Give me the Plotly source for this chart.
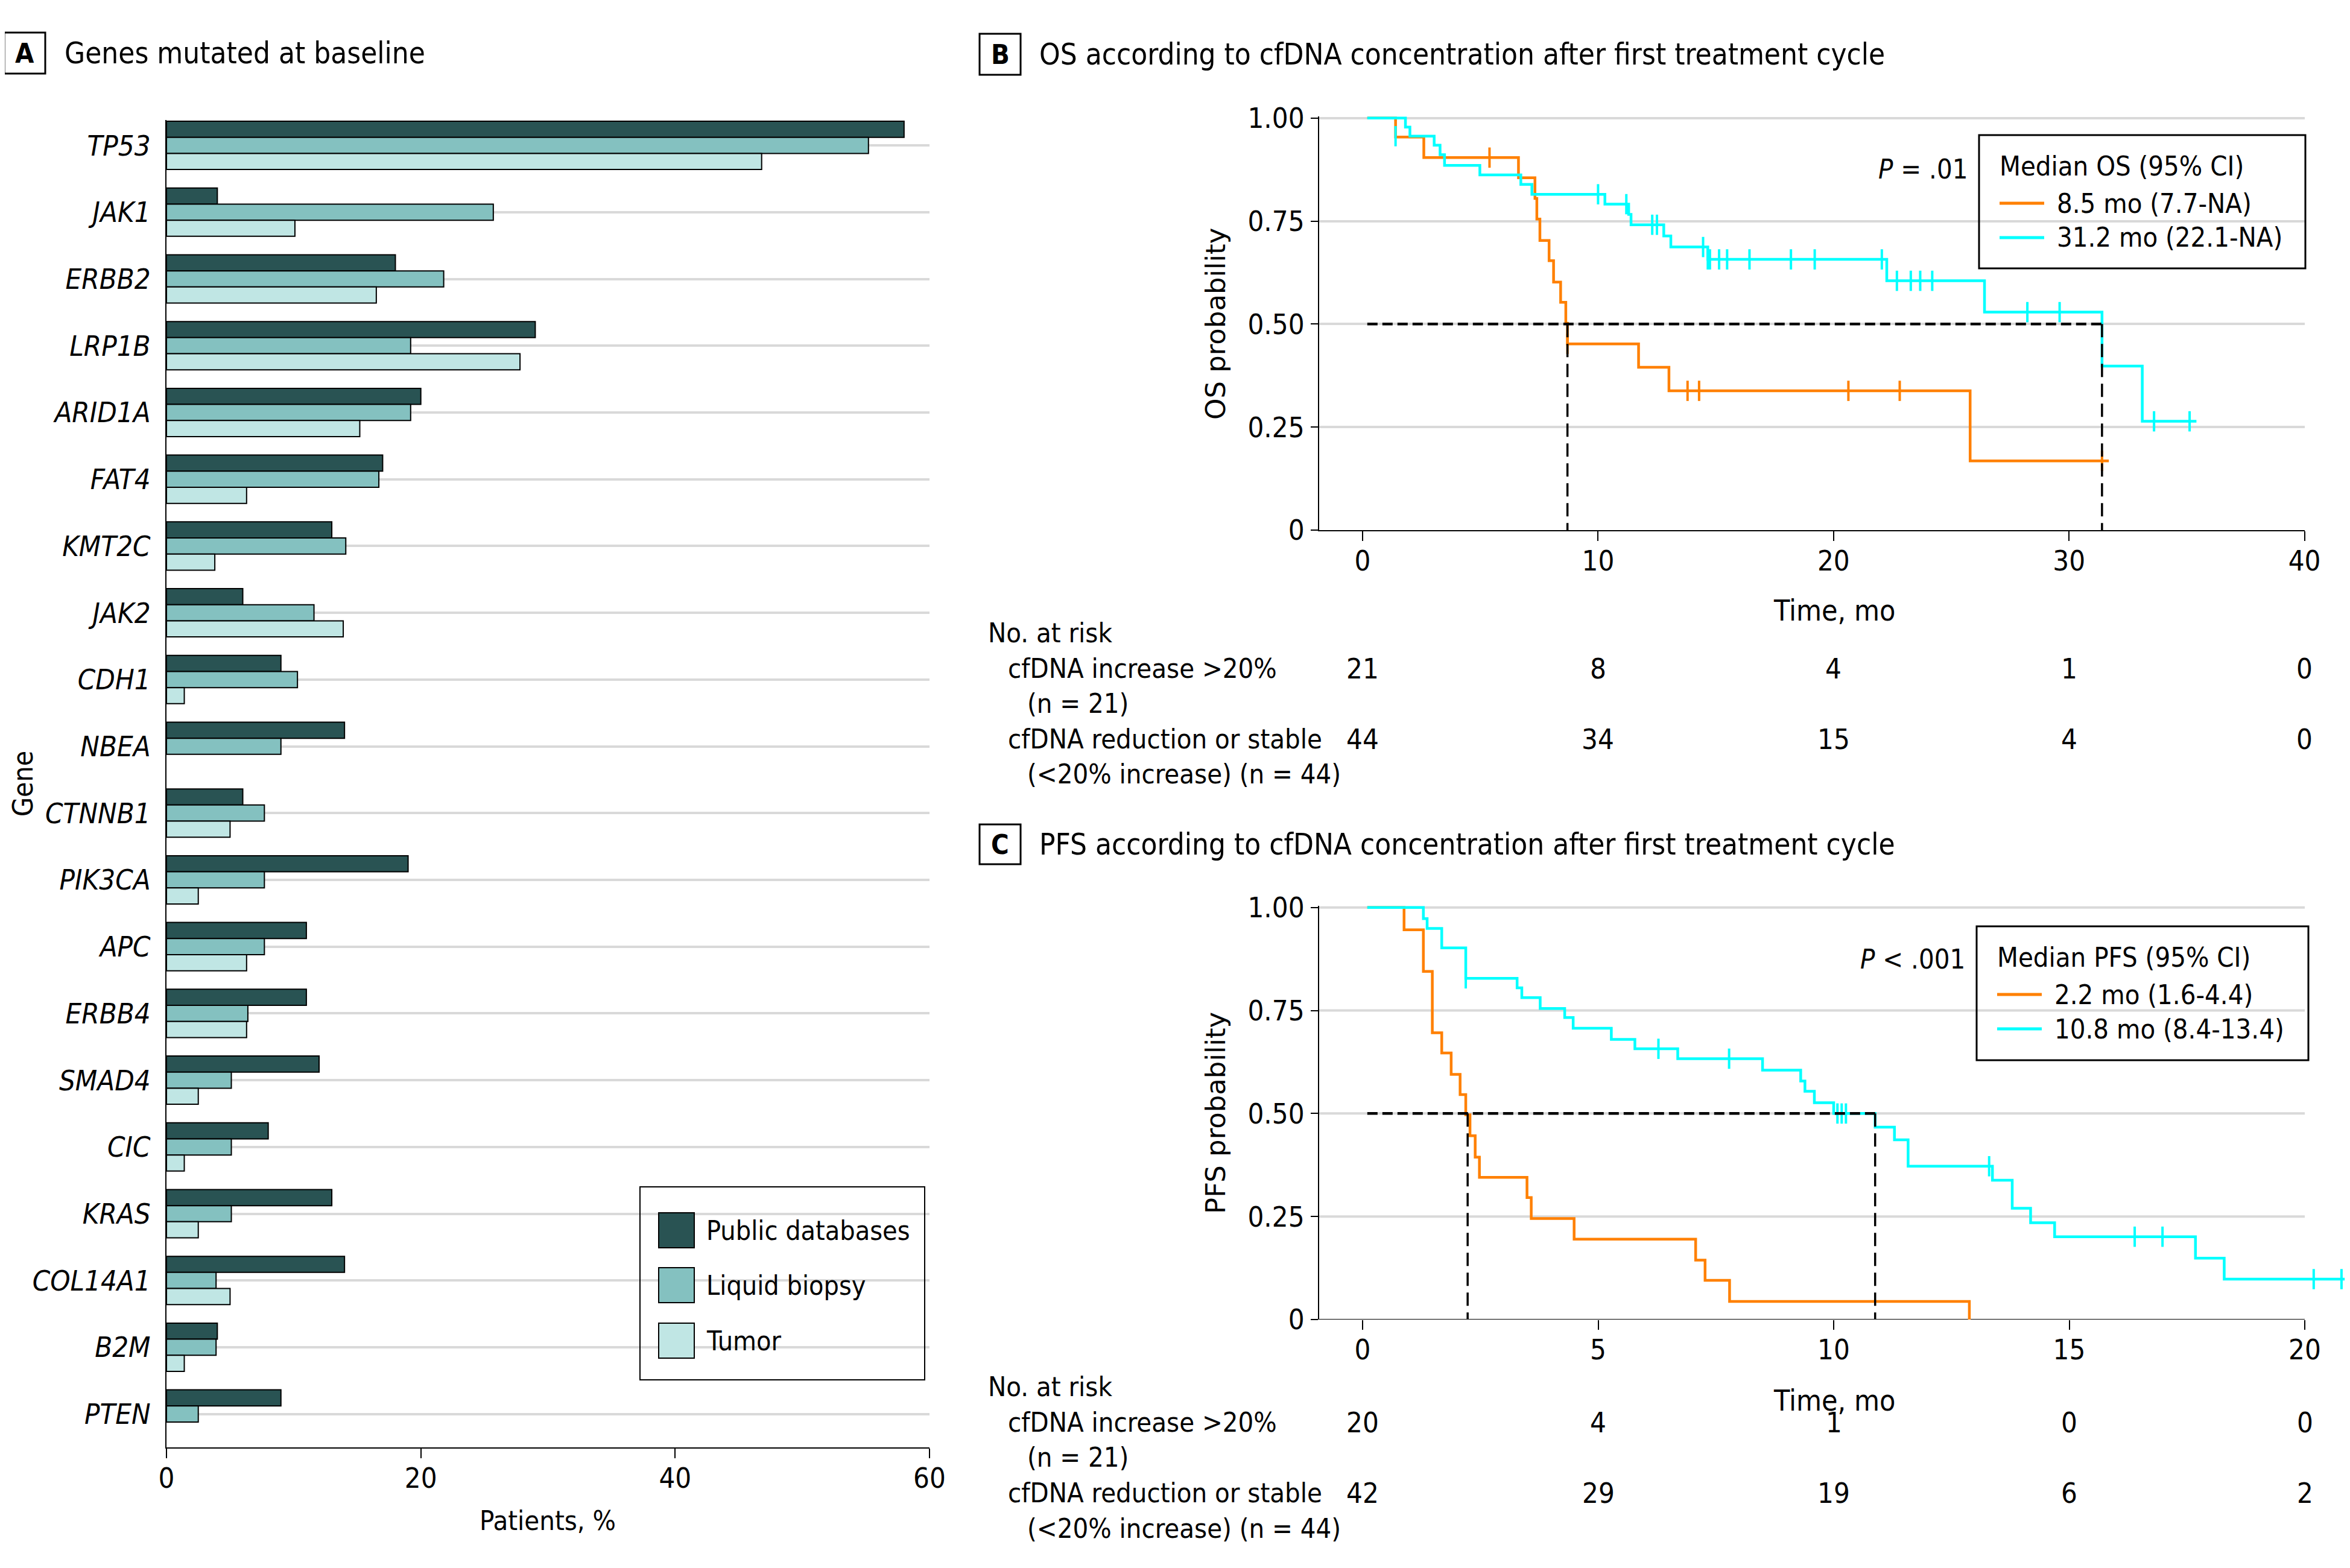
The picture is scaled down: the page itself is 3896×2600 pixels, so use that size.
import plotly.graph_objects as go

PAGE_W, PAGE_H = 3896, 2600
OFF = 8                       # default body margin of the html page
W, H = PAGE_W - 2 * OFF, PAGE_H - 2 * OFF
FONT = "'Liberation Sans Narrow', 'Arial Narrow', 'DejaVu Sans Condensed', 'Roboto Condensed', sans-serif"
ORANGE = "#ff8000"
CYAN = "#00ffff"
GRID = "#d9d9d9"
TXT = 45      # body text size
TICK = 47     # tick label size
TITLE = 49    # panel title size

# ---------------- Panel A data ----------------
genes = ["TP53", "JAK1", "ERBB2", "LRP1B", "ARID1A", "FAT4", "KMT2C", "JAK2", "CDH1", "NBEA",
         "CTNNB1", "PIK3CA", "APC", "ERBB4", "SMAD4", "CIC", "KRAS", "COL14A1", "B2M", "PTEN"]
public_db = [58.0, 4.0, 18.0, 29.0, 20.0, 17.0, 13.0, 6.0, 9.0, 14.0,
             6.0, 19.0, 11.0, 11.0, 12.0, 8.0, 13.0, 14.0, 4.0, 9.0]
liquid_biopsy = [55.2, 25.7, 21.8, 19.2, 19.2, 16.7, 14.1, 11.6, 10.3, 9.0,
                 7.7, 7.7, 7.7, 6.4, 5.1, 5.1, 5.1, 3.9, 3.9, 2.5]
tumor = [46.8, 10.1, 16.5, 27.8, 15.2, 6.3, 3.8, 13.9, 1.4, None,
         5.0, 2.5, 6.3, 6.3, 2.5, 1.4, 2.5, 5.0, 1.4, None]
bar_series = ["Public databases", "Liquid biopsy", "Tumor"]
bar_colors = ["#295353", "#84c1c0", "#c0e6e4"]
a_ticks = [0, 20, 40, 60]

# ---------------- Panel B data (OS) ----------------
os_inc_t = [0.2, 1.40, 2.60, 6.62, 7.32, 7.40, 7.53, 7.92, 8.11, 8.41, 8.63, 8.70, 11.72, 13.01, 25.80, 31.69]
os_inc_s = [1.0, 0.954, 0.904, 0.855, 0.805, 0.755, 0.703, 0.654, 0.602, 0.553, 0.502, 0.452, 0.395, 0.338, 0.168, 0.168]
os_inc_cens_t = [5.39, 8.70, 13.80, 14.29, 20.63, 22.81, 31.40]
os_inc_cens_s = [0.904, 0.452, 0.338, 0.338, 0.338, 0.338, 0.168]

os_red_t = [0.2, 1.82, 2.01, 3.04, 3.29, 3.48, 4.98, 6.72, 7.19, 10.29, 11.30, 11.40, 12.79, 13.09,
            14.66, 22.26, 26.41, 31.40, 33.11, 35.41]
os_red_s = [1.0, 0.978, 0.956, 0.934, 0.911, 0.885, 0.862, 0.839, 0.815, 0.791, 0.766, 0.741, 0.714, 0.687,
            0.657, 0.605, 0.529, 0.398, 0.264, 0.264]
os_red_cens_t = [1.40, 10.0, 11.20, 12.30, 12.50, 14.46, 14.66, 14.75, 15.14, 15.48, 16.43, 18.19, 19.20,
                 22.05, 22.69, 23.28, 23.68, 24.19, 28.23, 29.60, 33.61, 35.12]
os_red_cens_s = [0.956, 0.815, 0.791, 0.741, 0.741, 0.687, 0.657, 0.657, 0.657, 0.657, 0.657, 0.657, 0.657,
                 0.657, 0.605, 0.605, 0.605, 0.605, 0.529, 0.529, 0.264, 0.264]
os_medians = [8.70, 31.40]
os_ticks = [0, 10, 20, 30, 40]
os_risk_inc = [21, 8, 4, 1, 0]
os_risk_red = [44, 34, 15, 4, 0]

# ---------------- Panel C data (PFS) ----------------
pfs_inc_t = [0.1, 0.88, 1.29, 1.48, 1.68, 1.88, 2.07, 2.19, 2.28, 2.39, 2.48, 3.49, 3.58, 4.49, 7.07, 7.27, 7.79, 12.88]
pfs_inc_s = [1.0, 0.946, 0.845, 0.696, 0.647, 0.595, 0.546, 0.497, 0.446, 0.394, 0.345, 0.296, 0.245, 0.195,
             0.144, 0.095, 0.044, 0.0]
pfs_red_t = [0.1, 1.29, 1.37, 1.68, 2.19, 3.28, 3.38, 3.77, 4.29, 4.47, 5.28, 5.78, 6.69, 8.49, 9.30, 9.39,
             9.59, 10.00, 10.88, 11.29, 11.58, 13.37, 13.79, 14.18, 14.69, 17.68, 18.29, 20.85]
pfs_red_s = [1.0, 0.973, 0.949, 0.902, 0.828, 0.805, 0.781, 0.755, 0.733, 0.707, 0.680, 0.657, 0.633, 0.605,
             0.579, 0.554, 0.526, 0.500, 0.467, 0.436, 0.372, 0.338, 0.270, 0.235, 0.201, 0.149, 0.098, 0.098]
pfs_red_cens_t = [2.19, 6.28, 7.78, 10.08, 10.17, 10.26, 13.30, 16.39, 16.98, 20.19, 20.78]
pfs_red_cens_s = [0.828, 0.657, 0.633, 0.500, 0.500, 0.500, 0.372, 0.201, 0.201, 0.098, 0.098]
pfs_medians = [2.23, 10.88]
pfs_ticks = [0, 5, 10, 15, 20]
pfs_risk_inc = [20, 4, 1, 0, 0]
pfs_risk_red = [42, 29, 19, 6, 2]

prob_ticks = [0, 0.25, 0.5, 0.75, 1.0]
prob_labels = ["0", "0.25", "0.50", "0.75", "1.00"]


def px(x):
    return (x - OFF) / W


def py(y):
    return 1 - (y - OFF) / H


fig = go.Figure()

# ---------------- Panel A bars ----------------
for name, vals, col in zip(bar_series, [public_db, liquid_biopsy, tumor], bar_colors):
    fig.add_trace(go.Bar(y=genes, x=vals, orientation="h", name=name,
                         marker=dict(color=col, line=dict(color="black", width=2)),
                         xaxis="x", yaxis="y", showlegend=False))


def km(t, s, col, xa, ya):
    fig.add_trace(go.Scatter(x=t, y=s, mode="lines", line=dict(color=col, width=4.5, shape="hv"),
                             xaxis=xa, yaxis=ya, showlegend=False, hoverinfo="skip"))


def cens(t, s, col, xa, ya):
    fig.add_trace(go.Scatter(x=t, y=s, mode="markers",
                             marker=dict(symbol="line-ns", size=24, color=col, line=dict(color=col, width=4)),
                             xaxis=xa, yaxis=ya, showlegend=False, hoverinfo="skip"))


def medians(meds, start, xa, ya):
    fig.add_trace(go.Scatter(x=[start, max(meds)], y=[0.5, 0.5], mode="lines",
                             line=dict(color="black", width=4.5, dash="17px,8px"),
                             xaxis=xa, yaxis=ya, showlegend=False, hoverinfo="skip"))
    for m in meds:
        fig.add_trace(go.Scatter(x=[m, m], y=[0.5, 0], mode="lines",
                                 line=dict(color="black", width=3.5, dash="22px,11px"),
                                 xaxis=xa, yaxis=ya, showlegend=False, hoverinfo="skip"))


# Panel B
km(os_inc_t, os_inc_s, ORANGE, "x2", "y2")
km(os_red_t, os_red_s, CYAN, "x2", "y2")
cens(os_inc_cens_t, os_inc_cens_s, ORANGE, "x2", "y2")
cens(os_red_cens_t, os_red_cens_s, CYAN, "x2", "y2")
medians(os_medians, os_inc_t[0], "x2", "y2")

# Panel C
km(pfs_inc_t, pfs_inc_s, ORANGE, "x3", "y3")
km(pfs_red_t, pfs_red_s, CYAN, "x3", "y3")
cens(pfs_red_cens_t, pfs_red_cens_s, CYAN, "x3", "y3")
medians(pfs_medians, pfs_inc_t[0], "x3", "y3")

tickfont = dict(family=FONT, size=TICK, color="black")

# C axis: -0.922 .. 20.85 with 78.1 px per month, zero at px 2259
c_left, c_right = -0.922, 20.85
c_dom_r = 2259 + c_right * 78.1

fig.update_layout(
    width=W, height=H, margin=dict(l=0, r=0, t=0, b=0, autoexpand=False),
    paper_bgcolor="white", plot_bgcolor="white", showlegend=False,
    font=dict(family=FONT, size=TXT, color="black"),
    barmode="group", bargap=0.277, bargroupgap=0,
    xaxis=dict(domain=[px(276), px(1541)], range=[0, 60], tickvals=a_ticks, ticks="outside", ticklen=16,
               tickwidth=2, tickcolor="black", showline=True, linecolor="black", linewidth=2,
               showgrid=False, zeroline=False, anchor="y", tickfont=tickfont, ticklabelstandoff=-7,
               automargin=False),
    yaxis=dict(domain=[py(2400), py(199)], type="category", range=[19.5, -0.38], showline=True,
               linecolor="black", linewidth=2, showgrid=True, gridcolor=GRID, gridwidth=4, ticks="",
               anchor="x", tickfont=dict(family=FONT, size=TICK, color="black", style="italic"),
               ticklabelstandoff=15, zeroline=False, automargin=False),
    xaxis2=dict(domain=[px(2187), px(3821)], range=[-1.844, 40.01], tickvals=os_ticks, ticks="outside",
                ticklen=16, tickwidth=2, tickcolor="black", showline=True, linecolor="black", linewidth=2,
                showgrid=False, zeroline=False, anchor="y2", tickfont=tickfont, ticklabelstandoff=-7,
                automargin=False),
    yaxis2=dict(domain=[py(879), py(193)], range=[0, 1.004], tickvals=prob_ticks, ticktext=prob_labels,
                ticks="outside", ticklen=12, tickwidth=2, tickcolor="black", showline=True, linecolor="black",
                linewidth=2, showgrid=True, gridcolor=GRID, gridwidth=4, zeroline=False, anchor="x2",
                tickfont=tickfont, ticklabelstandoff=1, automargin=False),
    xaxis3=dict(domain=[px(2187), px(c_dom_r)], range=[c_left, c_right], tickvals=pfs_ticks, ticks="outside",
                ticklen=16, tickwidth=2, tickcolor="black", showline=False, showgrid=False, zeroline=False,
                anchor="y3", tickfont=tickfont, ticklabelstandoff=-7, automargin=False),
    yaxis3=dict(domain=[py(2188), py(1502)], range=[0, 1.004], tickvals=prob_ticks, ticktext=prob_labels,
                ticks="outside", ticklen=12, tickwidth=2, tickcolor="black", showline=True, linecolor="black",
                linewidth=2, showgrid=False, zeroline=False, anchor="x3", tickfont=tickfont,
                ticklabelstandoff=1, automargin=False),
)

shapes = []
annotations = []


def ann(text, x, y, size=TXT, xanchor="left", yanchor="middle", family=FONT, angle=0, xref="paper"):
    annotations.append(dict(text=text, x=x, y=y, xref=xref, yref="paper", showarrow=False,
                            xanchor=xanchor, yanchor=yanchor, textangle=angle, borderpad=0,
                            font=dict(family=family, size=size, color="black")))


def rect(x0, y0, x1, y1, lw=2, fill=None):
    shapes.append(dict(type="rect", xref="paper", yref="paper", x0=px(x0), x1=px(x1), y0=py(y0), y1=py(y1),
                       line=dict(color="black", width=lw), fillcolor=fill if fill else "rgba(0,0,0,0)"))


def hline(x0, x1, y, col, lw):
    shapes.append(dict(type="line", xref="paper", yref="paper", x0=px(x0), x1=px(x1), y0=py(y), y1=py(y),
                       line=dict(color=col, width=lw)))


# C gridlines + axis line limited to 0..20
for v in prob_ticks[1:]:
    shapes.append(dict(type="line", xref="x3", yref="y3", x0=c_left, x1=pfs_ticks[-1], y0=v, y1=v,
                       line=dict(color=GRID, width=4), layer="below"))
shapes.append(dict(type="line", xref="x3", yref="y3", x0=c_left, x1=pfs_ticks[-1], y0=0, y1=0,
                   line=dict(color="black", width=2), layer="below"))

# Panel labels and titles
for letter, y0, y1, title, ty, tx in [("A", 54, 122, "Genes mutated at baseline", 88, 106),
                                      ("B", 56, 124, "OS according to cfDNA concentration after first treatment cycle", 90, 1722),
                                      ("C", 1367, 1433, "PFS according to cfDNA concentration after first treatment cycle", 1400, 1722)]:
    x0 = 7 if letter == "A" else 1624
    rect(x0, y0, x0 + 68, y1, lw=3)
    ann("<b>%s</b>" % letter, px(x0 + 34), py((y0 + y1) / 2), size=TXT, xanchor="center")
    ann(title, px(tx), py(ty), size=TITLE)

# Panel A axis titles
ann("Gene", px(38), py(1300), size=46, xanchor="center", angle=-90)
ann("Patients, %", px(908), py(2521), size=TXT, xanchor="center")

# Panel A legend
rect(1061, 1968, 1533, 2288, lw=2)
for name, col, yc in zip(bar_series, bar_colors, [2040, 2131, 2223]):
    rect(1092, yc - 29, 1151, yc + 29, lw=2, fill=col)
    ann(name, px(1170), py(yc), size=44.5)

# KM panel texts
for (ylab, yc_lab, time_y, p_text, p_y, leg_box, leg_title, leg_items, risk_ys, ticks, r_inc, r_red, xa) in [
    ("OS probability", 537, 1012, "<i>P</i> = .01", 280, (3281, 224, 3822, 445), "Median OS (95% CI)",
     ["8.5 mo (7.7-NA)", "31.2 mo (22.1-NA)"], (1049, 1108, 1166, 1225, 1284), os_ticks, os_risk_inc, os_risk_red, "x2"),
    ("PFS probability", 1846, 2322, "<i>P</i> < .001", 1590, (3277, 1536, 3827, 1758), "Median PFS (95% CI)",
     ["2.2 mo (1.6-4.4)", "10.8 mo (8.4-13.4)"], (2299, 2358, 2416, 2475, 2534), pfs_ticks, pfs_risk_inc, pfs_risk_red, "x3"),
]:
    ann(ylab, px(2015), py(yc_lab), size=45, xanchor="center", angle=-90, family="DejaVu Sans")
    ann("Time, mo", px(3041), py(time_y), size=48, xanchor="center")
    ann(p_text, px(leg_box[0] - 18), py(p_y), size=TXT, xanchor="right")
    rect(leg_box[0], leg_box[1], leg_box[2], leg_box[3], lw=3)
    top = leg_box[1]
    ann(leg_title, px(leg_box[0] + 33), py(top + 52), size=TXT)
    for i, (txt, col) in enumerate(zip(leg_items, [ORANGE, CYAN])):
        yc = top + 113 + 57 * i
        hline(leg_box[0] + 34, leg_box[0] + 108, yc, col, 5)
        ann(txt, px(leg_box[0] + 128), py(yc), size=TXT)
    ann("No. at risk", px(1637), py(risk_ys[0]), size=TXT)
    ann("cfDNA increase >20%", px(1670), py(risk_ys[1]), size=TXT)
    ann("(n = 21)", px(1702), py(risk_ys[2]), size=TXT)
    ann("cfDNA reduction or stable", px(1670), py(risk_ys[3]), size=TXT)
    ann("(<20% increase) (n = 44)", px(1702), py(risk_ys[4]), size=TXT)
    for t, a, b in zip(ticks, r_inc, r_red):
        annotations.append(dict(text=str(a), x=t, y=py(risk_ys[1]), xref=xa, yref="paper", showarrow=False,
                                xanchor="center", yanchor="middle", font=dict(family=FONT, size=TICK, color="black")))
        annotations.append(dict(text=str(b), x=t, y=py(risk_ys[3]), xref=xa, yref="paper", showarrow=False,
                                xanchor="center", yanchor="middle", font=dict(family=FONT, size=TICK, color="black")))

fig.update_layout(shapes=shapes, annotations=annotations)
fig.write_html("out.html")
